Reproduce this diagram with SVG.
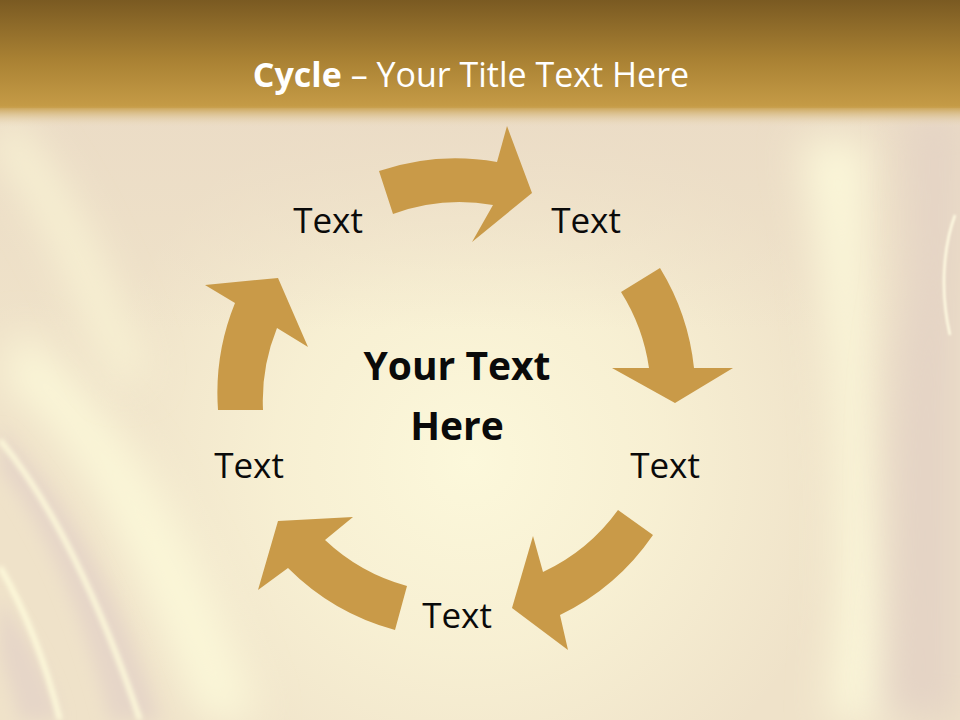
<svg xmlns="http://www.w3.org/2000/svg" width="960" height="720" viewBox="0 0 960 720">
<defs>
<style>
.arrow{fill:#C99A48;}
.lbl{font-family:"Open Sans","Liberation Sans",sans-serif;font-size:35px;fill:#0a0a0a;text-anchor:middle;}
.ctr{font-family:"Open Sans","Liberation Sans",sans-serif;font-size:39px;font-weight:bold;fill:#0a0a0a;text-anchor:middle;}
.ttl{font-family:"Open Sans","Liberation Sans",sans-serif;font-size:34px;fill:#ffffff;text-anchor:middle;}
</style>
<linearGradient id="band" x1="0" y1="0" x2="0" y2="1">
<stop offset="0" stop-color="#7A5A22"/>
<stop offset="0.55" stop-color="#A98133"/>
<stop offset="1" stop-color="#C69C47"/>
</linearGradient>
<linearGradient id="bandfade" x1="0" y1="0" x2="0" y2="1">
<stop offset="0" stop-color="#C69C47" stop-opacity="1"/>
<stop offset="1" stop-color="#EDDFC8" stop-opacity="0"/>
</linearGradient>
<linearGradient id="topshade" x1="0" y1="0" x2="0" y2="1">
<stop offset="0" stop-color="#EBDCC6" stop-opacity="1"/>
<stop offset="1" stop-color="#EBDCC6" stop-opacity="0"/>
</linearGradient>
<radialGradient id="glow" cx="470" cy="460" r="380" gradientUnits="userSpaceOnUse">
<stop offset="0" stop-color="#FCF8DB" stop-opacity="1"/>
<stop offset="0.5" stop-color="#FAF4D6" stop-opacity="0.75"/>
<stop offset="1" stop-color="#FAF4D6" stop-opacity="0"/>
</radialGradient>
<filter id="b20" x="-50%" y="-50%" width="200%" height="200%"><feGaussianBlur stdDeviation="20"/></filter>
<filter id="b8" x="-50%" y="-50%" width="200%" height="200%"><feGaussianBlur stdDeviation="8"/></filter>
<filter id="b3" x="-50%" y="-50%" width="200%" height="200%"><feGaussianBlur stdDeviation="2.5"/></filter>
<filter id="b1" x="-50%" y="-50%" width="200%" height="200%"><feGaussianBlur stdDeviation="1.2"/></filter>
</defs>

<g id="background">
<rect x="0" y="0" width="960" height="720" fill="#EFE2C9"/>
<rect x="0" y="100" width="960" height="620" fill="url(#glow)"/>
<rect x="0" y="110" width="960" height="220" fill="url(#topshade)"/>
<path d="M800,140 C830,300 850,500 830,720 L900,720 C880,500 860,300 870,140 Z" fill="#FBF7D9" filter="url(#b20)"/>
<path d="M910,110 L960,110 L960,720 L880,720 C900,560 880,420 905,300 C915,220 905,160 910,110 Z" fill="#E4D3C5" filter="url(#b20)"/>
<path d="M955,215 C943,248 940,292 950,335" fill="none" stroke="#FFFBE2" stroke-width="2.5" filter="url(#b1)"/>
<path d="M0,380 C60,420 120,520 200,720 L260,720 C200,540 130,420 20,330 Z" fill="#FBF7D8" filter="url(#b20)"/>
<path d="M0,470 C40,520 80,600 110,720 L160,720 C120,600 70,500 0,430 Z" fill="#E6D6C8" filter="url(#b8)"/>
<path d="M0,600 C30,640 50,680 60,720 L20,720 C10,680 0,660 0,650 Z" fill="#E6D6C8" filter="url(#b8)"/>
<path d="M0,440 C50,500 100,600 140,720" fill="none" stroke="#FFFCDC" stroke-width="5" filter="url(#b3)"/>
<path d="M0,567 C25,610 45,660 60,720" fill="none" stroke="#FFFCDC" stroke-width="5" filter="url(#b3)"/>
<path d="M0,130 C60,200 100,300 130,380" fill="none" stroke="#FAF5D6" stroke-width="30" filter="url(#b20)"/>
<rect x="0" y="0" width="960" height="108" fill="url(#band)"/>
<rect x="0" y="106" width="960" height="22" fill="url(#bandfade)"/>
</g>

<g id="title">
<text class="ttl" x="471" y="87"><tspan font-weight="bold">Cycle</tspan> – Your Title Text Here</text>
</g>

<g id="connectors">
<path class="arrow" d="M379,171 A239,239 0 0 1 497,162 L507,126 L532,193 L472,242 L493,205 A194,194 0 0 0 393,214 Z"/>
<path class="arrow" d="M660,268 A239,239 0 0 1 694,368 L733,368 L675,403 L612,368 L649,368 A194,194 0 0 0 621,292 Z"/>
<path class="arrow" d="M653,535 A239,239 0 0 1 560,615 L568,650 L512,608 L533,536 L543,572 A194,194 0 0 0 618,510 Z"/>
<path class="arrow" d="M395,630 A239,239 0 0 1 288,568 L258,590 L278,521 L353,517 L325,540 A194,194 0 0 0 407,586 Z"/>
<path class="arrow" d="M218,410 A239,239 0 0 1 235,303 L205,285 L278,278 L308,347 L277,328 A194,194 0 0 0 263,410 Z"/>
</g>

<g id="center"><text class="ctr" x="457" y="380">Your Text</text><text class="ctr" x="457" y="440">Here</text></g>
<g id="node1"><text class="lbl" x="328" y="233">Text</text></g>
<g id="node2"><text class="lbl" x="586" y="233">Text</text></g>
<g id="node3"><text class="lbl" x="665" y="478">Text</text></g>
<g id="node4"><text class="lbl" x="457" y="628">Text</text></g>
<g id="node5"><text class="lbl" x="249" y="478">Text</text></g>
</svg>
